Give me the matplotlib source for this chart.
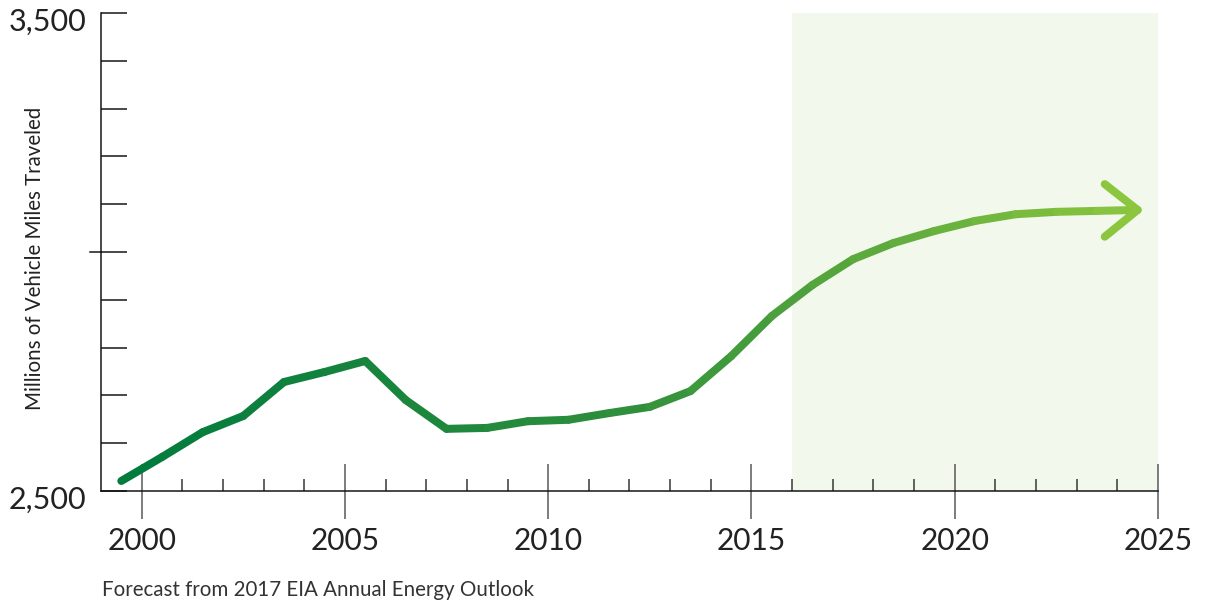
"""
Vehicle miles traveled, history plus EIA 2017 forecast (shaded).
"""
import matplotlib
matplotlib.use("Agg")
import matplotlib.pyplot as plt
import numpy as np
from matplotlib.collections import LineCollection
from matplotlib.colors import LinearSegmentedColormap
from matplotlib import transforms

plt.rcParams["font.family"] = ["Lato", "DejaVu Sans"]

# data (mid-year points)
years = [1999.5, 2000.5, 2001.5, 2002.5, 2003.5, 2004.5, 2005.5, 2006.5,
         2007.5, 2008.5, 2009.5, 2010.5, 2011.5, 2012.5, 2013.5, 2014.5,
         2015.5, 2016.5, 2017.5, 2018.5, 2019.5, 2020.5, 2021.5, 2022.5,
         2023.5, 2024.5]
vmt = [2521, 2571, 2623, 2657, 2728, 2749, 2772, 2690, 2630, 2632, 2646,
       2649, 2663, 2676, 2709, 2782, 2866, 2931, 2985, 3019, 3044, 3065,
       3079, 3084, 3086, 3088]
forecast_start, forecast_end = 2016, 2025
x_major = [2000, 2005, 2010, 2015, 2020, 2025]
x_minor = [y for y in range(2001, 2025) if y % 5]
y_labels = {2500: "2,500", 3500: "3,500"}

DARK, LIGHT = "#007a3d", "#8cc63f"
PX = 0.72  # points per pixel at dpi=100

fig = plt.figure(figsize=(12.07, 6.04), dpi=100)
ax = fig.add_axes([101 / 1207, 1 - 491 / 604, 1057 / 1207, 478 / 604])
ax.set_xlim(1999, 2025)
ax.set_ylim(2500, 3500)

ax.axvspan(forecast_start, forecast_end, color="#f2f8ec", lw=0, zorder=0)

# gradient line
pts = np.column_stack([years, vmt])
segs = np.stack([pts[:-1], pts[1:]], axis=1)
cmap = LinearSegmentedColormap.from_list("vmt", [DARK, "#2f8f3c", LIGHT])
mids = (np.array(years[:-1]) + np.array(years[1:])) / 2
lc = LineCollection(segs, colors=cmap((mids - years[0]) / (years[-1] - years[0])),
                    linewidths=8 * PX, capstyle="round", joinstyle="round",
                    zorder=3)
ax.add_collection(lc)

# open arrow head at the end of the forecast
tip_x, tip_y = years[-1], vmt[-1]
ax.plot([tip_x - 0.81, tip_x, tip_x - 0.81], [tip_y + 54, tip_y, tip_y - 56],
        color=LIGHT, lw=8 * PX, solid_capstyle="round",
        solid_joinstyle="round", zorder=3)

for side in ("top", "right"):
    ax.spines[side].set_visible(False)
for side in ("left", "bottom"):
    ax.spines[side].set_color("#111")
    ax.spines[side].set_linewidth(1.5 * PX)

ax.set_yticks(list(y_labels), list(y_labels.values()))
ax.set_yticks(range(2600, 3500, 100), minor=True)
ax.tick_params(axis="y", which="both", direction="in", length=26 * PX,
               width=1.5 * PX, color="#111", pad=15 * PX,
               labelsize=22, labelcolor="#222")
# labels sit a little below their ticks in the original
shift = transforms.ScaledTranslation(0, -6 / 100, fig.dpi_scale_trans)
for lab in ax.get_yticklabels():
    lab.set_transform(lab.get_transform() + shift)
# 3,000 tick pokes out past the spine
ax.plot([-11 / 1057, 0], [3000, 3000], color="#111", lw=1.5 * PX,
        transform=transforms.blended_transform_factory(ax.transAxes, ax.transData),
        clip_on=False)

ax.set_xticks(x_major, [str(y) for y in x_major])
ax.set_xticks(x_minor, minor=True)
ax.tick_params(axis="x", which="major", direction="inout", length=55 * PX,
               width=1.5 * PX, color="#555", pad=9 * PX,
               labelsize=21.5, labelcolor="#222")
ax.tick_params(axis="x", which="minor", direction="in", length=12 * PX,
               width=1.5 * PX, color="#333")

fig.text(35 / 1207, 1 - 258 / 604, "Millions of Vehicle Miles Traveled",
         rotation=90, ha="center", va="center", fontsize=14.8, color="#222")
fig.text(102 / 1207, 1 - 590 / 604, "Forecast from 2017 EIA Annual Energy Outlook",
         ha="left", va="center", fontsize=14.8, color="#333")

fig.savefig("out.png", dpi=100)
